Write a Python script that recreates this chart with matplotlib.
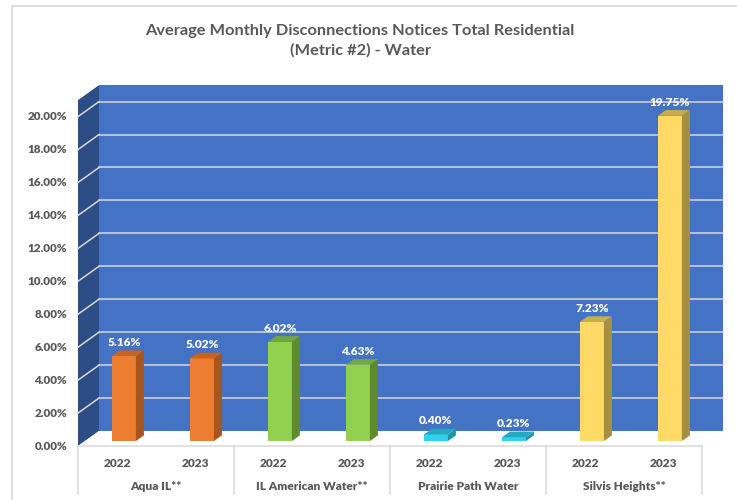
import matplotlib
matplotlib.use("Agg")
import matplotlib.pyplot as plt
from matplotlib.patches import Polygon, Rectangle

# ---------------- data ----------------
groups = ["Aqua IL**", "IL American Water**", "Prairie Path Water", "Silvis Heights**"]
years = ["2022", "2023"]
values_2022 = [5.16, 6.02, 0.40, 7.23]
values_2023 = [5.02, 4.63, 0.23, 19.75]
yticks = [0, 2, 4, 6, 8, 10, 12, 14, 16, 18, 20]
ytick_labels = [f"{t:.2f}%" for t in yticks]
title = "Average Monthly Disconnections Notices Total Residential\n(Metric #2) - Water"

# colors (front, side, top)
group_colors = [
    ("#ED7D31", "#A9561E", "#C5651F"),
    ("#92D050", "#5F8A30", "#72A83C"),
    ("#33D0EE", "#1E96AA", "#25A9BF"),
    ("#FFD966", "#A68F43", "#C9AC4E"),
]
wall_back = "#4472C4"
wall_side = "#2D4D86"
grid_c = "#D9D9D9"
text_c = "#595959"
FONT = ["Lato", "DejaVu Sans"]

# ---------------- geometry ----------------
W, H = 737, 500
PX_X = 78.0       # pixels per category slot
PX_Y = 16.47      # pixels per percent
X0, Y0 = 78.0, 446.0   # pixel position of data (0, 0)
XMIN, XMAX = -0.1, 8.35
YMIN, YMAX = -3.0, 22.0
DX = 21.0 / PX_X    # depth vector in data units
DY = 15.0 / PX_Y
WALL_TOP = 21.0
nslots = len(groups) * len(years)

fig = plt.figure(figsize=(W / 100, H / 100), dpi=100)
left_px = X0 + XMIN * PX_X
right_px = X0 + XMAX * PX_X
bot_px = Y0 - YMIN * PX_Y
top_px = Y0 - YMAX * PX_Y
ax = fig.add_axes([left_px / W, (H - bot_px) / H, (right_px - left_px) / W, (bot_px - top_px) / H])
ax.set_xlim(XMIN, XMAX)
ax.set_ylim(YMIN, YMAX)
ax.axis("off")

# chart border
fig.add_artist(Rectangle((12 / W, -0.1), 1.2, (H - 6) / H + 0.1, transform=fig.transFigure,
                         fill=False, edgecolor="#D9D9D9", lw=1.2))

# walls
ax.add_patch(Polygon([(DX, DY), (nslots + DX, DY), (nslots + DX, WALL_TOP + DY), (DX, WALL_TOP + DY)],
                     closed=True, facecolor=wall_back, edgecolor="none", zorder=1))
ax.add_patch(Polygon([(0, 0), (DX, DY), (DX, WALL_TOP + DY), (0, WALL_TOP)],
                     closed=True, facecolor=wall_side, edgecolor="none", zorder=1))
ax.add_patch(Polygon([(0, 0), (nslots, 0), (nslots + DX, DY), (DX, DY)],
                     closed=True, facecolor="white", edgecolor="none", zorder=1))

# gridlines
for t in yticks[1:]:
    ax.plot([DX, nslots + DX], [t + DY, t + DY], color=grid_c, lw=1.1, zorder=2)
    ax.plot([0, DX], [t, t + DY], color=grid_c, lw=1.1, zorder=2)

# y tick labels
for t, lab in zip(yticks, ytick_labels):
    ax.text(-0.14, t, lab, ha="right", va="center", fontsize=8.4, fontweight="heavy",
            color=text_c, family=FONT)

# category axis
ax.plot([0, nslots], [0, 0], color=grid_c, lw=1.1, zorder=2)
for g in range(len(groups) + 1):
    ax.plot([2 * g, 2 * g], [0, -2.95], color=grid_c, lw=1.1, zorder=2)

# bars
w = 24.0 / PX_X
f1, f2 = 0.33, 0.71
for g, grp in enumerate(groups):
    front, side, top = group_colors[g]
    for k, vals in enumerate([values_2022, values_2023]):
        v = vals[g]
        i = 2 * g + k
        c = i + 0.5
        xc = c + f1 * DX
        ax.bar(xc, v, width=w, bottom=f1 * DY, color=front, edgecolor="none", zorder=4)
        xl, xr = xc - w / 2, xc + w / 2
        ddx = (f2 - f1) * DX
        ax.add_patch(Polygon([(xr, f1 * DY), (xr + ddx, f2 * DY), (xr + ddx, v + f2 * DY), (xr, v + f1 * DY)],
                             closed=True, facecolor=side, edgecolor="none", zorder=4))
        ax.add_patch(Polygon([(xl, v + f1 * DY), (xr, v + f1 * DY), (xr + ddx, v + f2 * DY), (xl + ddx, v + f2 * DY)],
                             closed=True, facecolor=top, edgecolor="none", zorder=4))
        ax.text(xc, v + f2 * DY + 0.15, f"{v:.2f}%", ha="center", va="bottom", fontsize=8.6,
                fontweight="heavy", color="white", family=FONT, zorder=5)
        ax.text(c, -1.05, years[k], ha="center", va="center", fontsize=8.6, fontweight="heavy",
                color=text_c, family=FONT)
    ax.text(2 * g + 1, -2.45, grp, ha="center", va="center", fontsize=8.6, fontweight="heavy",
            color=text_c, family=FONT)

fig.text(360 / W, 1 - 41 / H, title, ha="center", va="center", fontsize=11.8, fontweight="bold",
         color=text_c, family=FONT, linespacing=1.4)

fig.savefig("out.png", dpi=100, facecolor="white")
